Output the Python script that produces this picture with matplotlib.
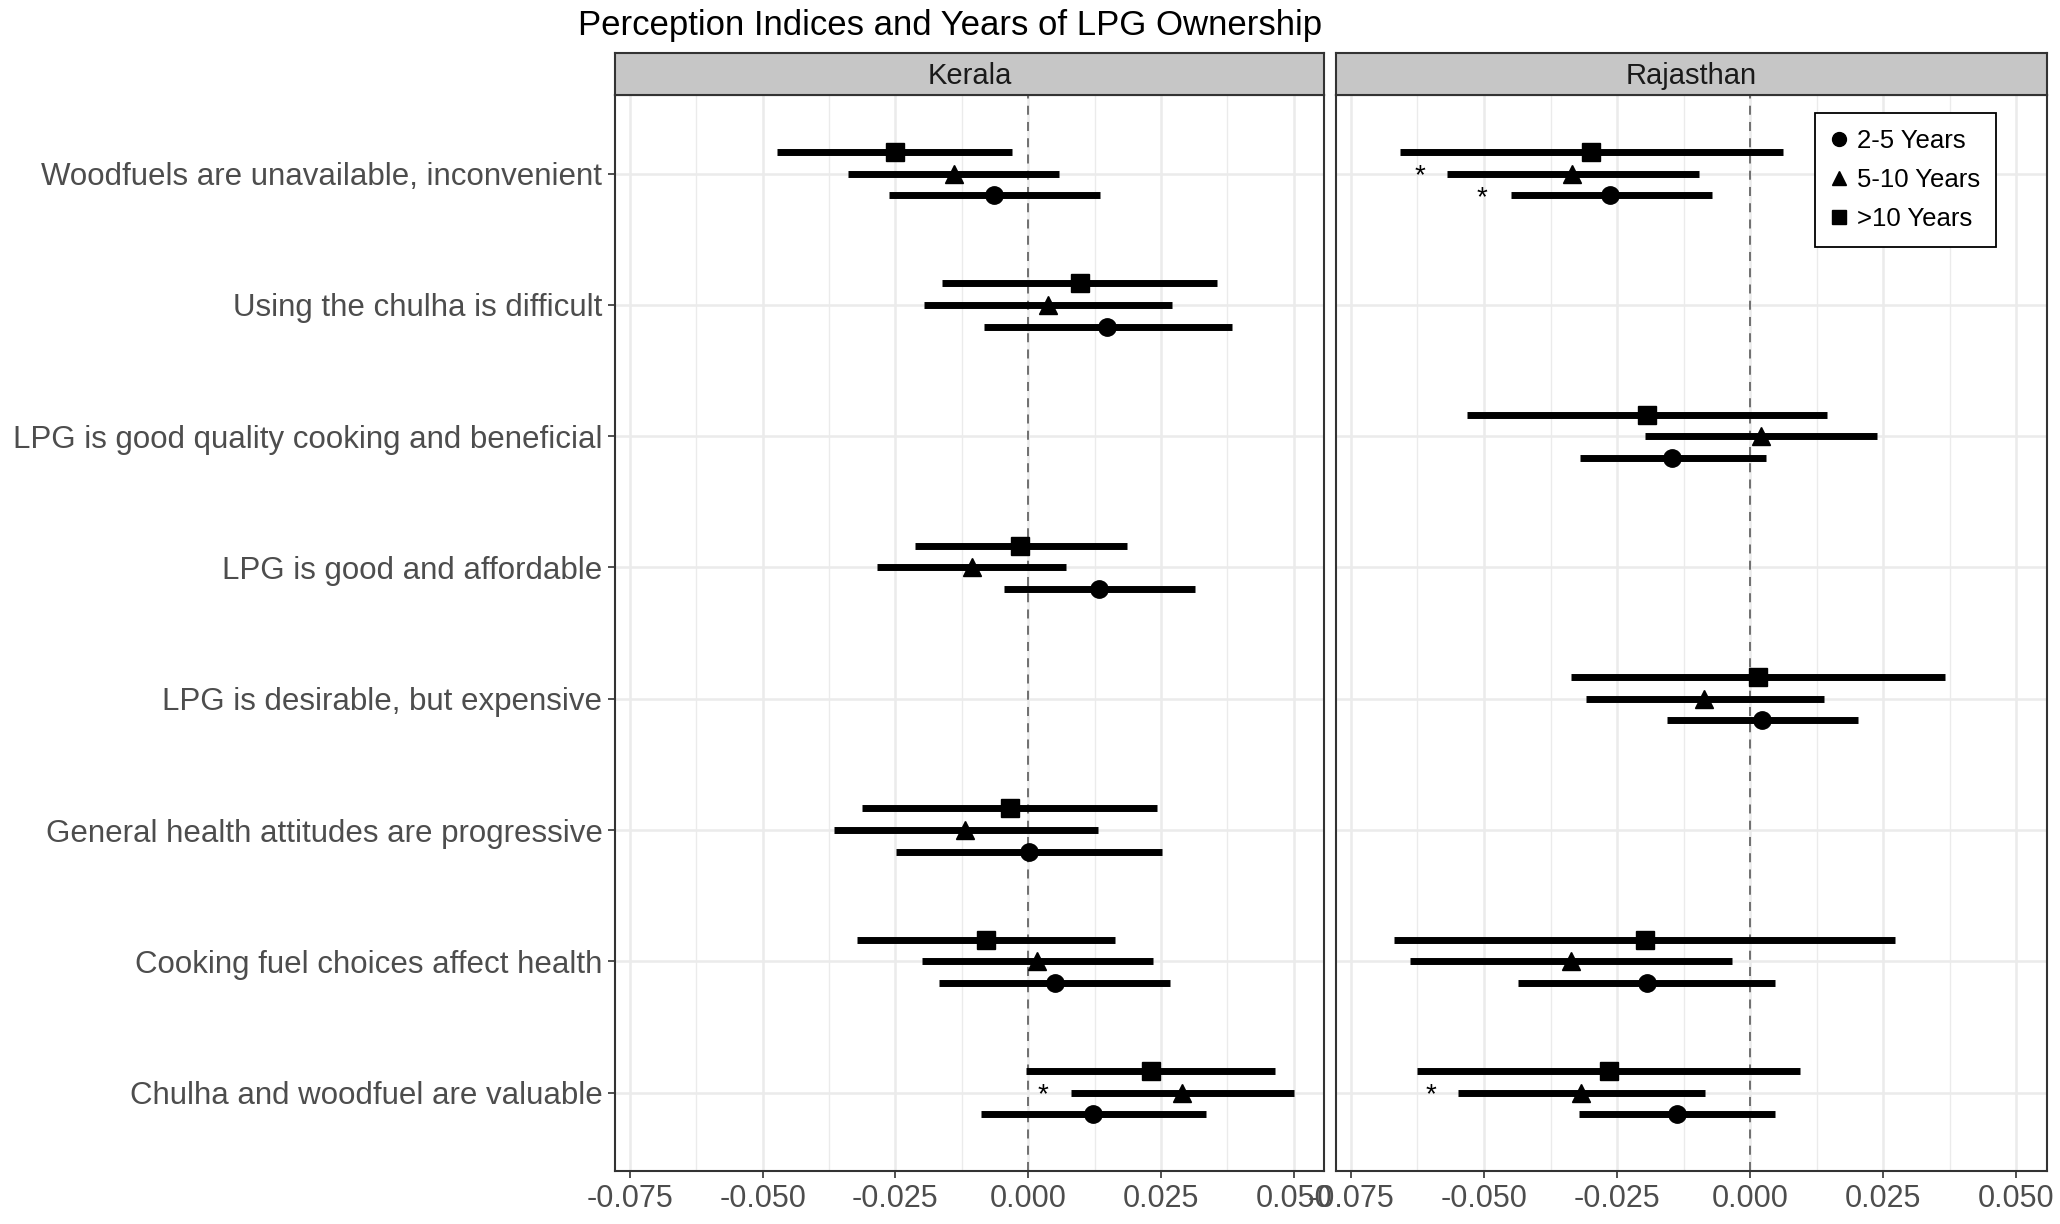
import numpy as np
import matplotlib.pyplot as plt
from matplotlib.lines import Line2D

plt.rcParams['font.family'] = ['Liberation Sans', 'DejaVu Sans']

categories = [
    "Woodfuels are unavailable, inconvenient",
    "Using the chulha is difficult",
    "LPG is good quality cooking and beneficial",
    "LPG is good and affordable",
    "LPG is desirable, but expensive",
    "General health attitudes are progressive",
    "Cooking fuel choices affect health",
    "Chulha and woodfuel are valuable",
]
groups = ["2-5 Years", "5-10 Years", ">10 Years"]
states = ["Kerala", "Rajasthan"]
nan = np.nan

# columns: 2-5, 5-10, >10 years
kerala_est = [[-0.0064, -0.0139, -0.0250], [0.0149, 0.0037, 0.0097], [nan, nan, nan],
              [0.0134, -0.0106, -0.0015], [nan, nan, nan], [0.0002, -0.0119, -0.0035],
              [0.0050, 0.0017, -0.0079], [0.0123, 0.0290, 0.0232]]
kerala_lo = [[-0.0262, -0.0339, -0.0473], [-0.0084, -0.0196, -0.0163], [nan, nan, nan],
             [-0.0045, -0.0285, -0.0213], [nan, nan, nan], [-0.0248, -0.0366, -0.0312],
             [-0.0168, -0.0200, -0.0322], [-0.0088, 0.0080, -0.0004]]
kerala_hi = [[0.0136, 0.0059, -0.0030], [0.0384, 0.0270, 0.0356], [nan, nan, nan],
             [0.0314, 0.0072, 0.0186], [nan, nan, nan], [0.0252, 0.0131, 0.0243],
             [0.0267, 0.0235, 0.0163], [0.0335, 0.0500, 0.0465]]

rajasthan_est = [[-0.0263, -0.0334, -0.0299], [nan, nan, nan], [-0.0146, 0.0020, -0.0193],
                 [nan, nan, nan], [0.0022, -0.0087, 0.0015], [nan, nan, nan],
                 [-0.0193, -0.0337, -0.0198], [-0.0138, -0.0317, -0.0266]]
rajasthan_lo = [[-0.0450, -0.0569, -0.0658], [nan, nan, nan], [-0.0319, -0.0198, -0.0532],
                [nan, nan, nan], [-0.0156, -0.0309, -0.0337], [nan, nan, nan],
                [-0.0436, -0.0639, -0.0668], [-0.0322, -0.0548, -0.0626]]
rajasthan_hi = [[-0.0072, -0.0097, 0.0061], [nan, nan, nan], [0.0030, 0.0238, 0.0144],
                [nan, nan, nan], [0.0203, 0.0139, 0.0366], [nan, nan, nan],
                [0.0047, -0.0035, 0.0272], [0.0047, -0.0084, 0.0094]]

# significance stars: (category index, group index, x)
kerala_stars = [(7, 1, 0.0028)]
rajasthan_stars = [(0, 1, -0.0621), (0, 0, -0.0503), (7, 1, -0.0600)]

xticks = [-0.075, -0.050, -0.025, 0.000, 0.025, 0.050]
xlim = (-0.0778, 0.0557)

markers = ['o', '^', 's']
msizes = [12.5, 13.5, 12.5]
offsets = [-0.165, 0.0, 0.165]

data = {
    "Kerala": (kerala_est, kerala_lo, kerala_hi, kerala_stars),
    "Rajasthan": (rajasthan_est, rajasthan_lo, rajasthan_hi, rajasthan_stars),
}

fig = plt.figure(figsize=(20.6, 12.24), dpi=100)
panel_b, panel_h = 0.0430, 0.8795
strip_h = 0.0344
panels = [(0.2985, 0.3442), (0.6485, 0.3451)]

ncat = len(categories)
ypos = np.arange(ncat, 0, -1)

for k, state in enumerate(states):
    left, width = panels[k]
    ax = fig.add_axes([left, panel_b, width, panel_h])
    est, lo, hi, stars = data[state]
    est, lo, hi = np.array(est), np.array(lo), np.array(hi)

    ax.set_xlim(*xlim)
    ax.set_ylim(0.4, ncat + 0.6)
    ax.set_xticks(xticks)
    ax.set_xticks([t + 0.0125 for t in xticks[:-1]], minor=True)
    ax.set_xticklabels(["%.3f" % t for t in xticks])
    ax.set_yticks(ypos)
    ax.grid(True, which='major', color='#EBEBEB', lw=1.8, zorder=0)
    ax.grid(True, which='minor', axis='x', color='#EBEBEB', lw=1.0, zorder=0)
    ax.set_axisbelow(True)
    ax.tick_params(axis='x', which='minor', length=0)
    ax.tick_params(axis='x', which='major', labelsize=22, labelcolor='#4D4D4D',
                   color='#333333', length=5, width=1.2, pad=4)
    if k == 0:
        ax.set_yticklabels(categories)
        ax.tick_params(axis='y', labelsize=22.5, labelcolor='#4D4D4D',
                       color='#333333', length=5, width=1.2, pad=4)
    else:
        ax.tick_params(axis='y', length=0, labelleft=False)
    for sp in ax.spines.values():
        sp.set_color('#333333')
        sp.set_linewidth(1.5)

    ax.axvline(0, color='#666666', lw=1.3, ls=(0, (5, 4)), zorder=1)

    for g in range(3):
        y = ypos + offsets[g]
        ok = ~np.isnan(est[:, g])
        ax.hlines(y[ok], lo[ok, g], hi[ok, g], color='black', lw=5, zorder=3)
        ax.plot(est[ok, g], y[ok], ls='none', marker=markers[g], ms=msizes[g],
                color='black', zorder=4)

    for ci, gi, sx in stars:
        ax.text(sx, ypos[ci] + offsets[gi] - 0.02, "*", ha='center', va='center',
                fontsize=20, color='black')

    # facet strip
    sax = fig.add_axes([left, panel_b + panel_h, width, strip_h])
    sax.set_facecolor('#C6C6C6')
    sax.set_xticks([])
    sax.set_yticks([])
    for sp in sax.spines.values():
        sp.set_color('#333333')
        sp.set_linewidth(1.5)
    sax.text(0.5, 0.45, state, ha='center', va='center', fontsize=21,
             color='#1A1A1A', transform=sax.transAxes)

    if k == 1:
        handles = [Line2D([], [], ls='none', marker=markers[g], ms=10, color='black')
                   for g in range(3)]
        leg = ax.legend(handles, groups, loc='upper right', bbox_to_anchor=(0.928, 0.983),
                        fontsize=18.5, frameon=True, fancybox=False, framealpha=1,
                        edgecolor='black', handlelength=0.7, handletextpad=0.35,
                        borderpad=0.6, labelspacing=0.6, borderaxespad=0)
        leg.get_frame().set_linewidth(1.3)

fig.text(0.2806, 0.9795, "Perception Indices and Years of LPG Ownership",
         ha='left', va='center', fontsize=25, color='black')

fig.savefig("out.png", dpi=100)
